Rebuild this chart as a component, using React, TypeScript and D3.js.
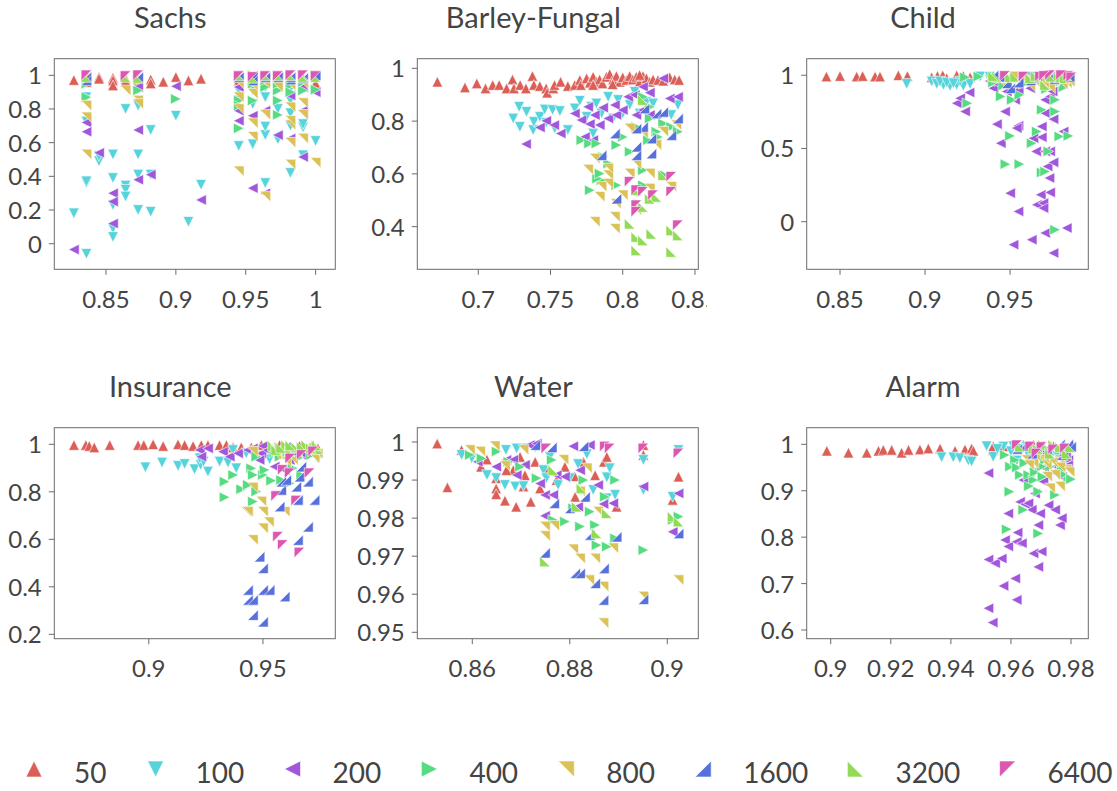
import React from 'react';
import * as d3 from 'd3';

type P = [number, number];

const SERIES = ['50', '100', '200', '400', '800', '1600', '3200', '6400'];
const COLORS = ['#db5f57', '#57d3db', '#a157db', '#57db80', '#dbc257', '#5770db', '#91db57', '#db57b2'];
// triangle orientation per series (unit vertices, y down)
const SHAPES: P[][] = [
  [[0, -1], [-1, 1], [1, 1]],
  [[0, 1], [-1, -1], [1, -1]],
  [[-1, 0], [1, -1], [1, 1]],
  [[1, 0], [-1, -1], [-1, 1]],
  [[-1, -1], [1, -1], [1, 1]],
  [[1, -1], [1, 1], [-1, 1]],
  [[-1, -1], [-1, 1], [1, 1]],
  [[-1, -1], [1, -1], [-1, 1]],
];

// ---------- Sachs ----------
const SACHS: P[][] = [
  [[0.827,0.972],[0.836,0.985],[0.836,0.96],[0.836,0.995],[0.845,0.99],[0.845,0.98],[0.855,0.985],[0.855,0.97],[0.855,0.94],[0.864,0.98],[0.864,0.965],[0.873,0.975],[0.873,0.95],[0.882,0.975],[0.882,0.952],[0.891,0.962],[0.9,0.99],[0.909,0.97],[0.918,0.98],[0.945,0.985],[0.945,0.97],[0.945,0.995],[0.955,0.98],[0.955,0.97],[0.964,0.975],[0.964,0.985],[0.973,0.98],[0.973,0.97],[0.982,0.985],[0.982,0.96],[0.991,0.975],[0.991,0.985],[1.0,0.952]],
  [[0.827,0.18],[0.836,-0.06],[0.836,0.36],[0.836,0.37],[0.836,0.725],[0.836,0.87],[0.845,0.49],[0.845,0.52],[0.855,0.53],[0.855,0.39],[0.855,0.23],[0.855,0.09],[0.855,0.04],[0.864,0.8],[0.864,0.345],[0.864,0.32],[0.864,0.28],[0.873,0.53],[0.873,0.41],[0.873,0.2],[0.873,0.82],[0.882,0.675],[0.882,0.41],[0.882,0.19],[0.9,0.76],[0.909,0.13],[0.918,0.35],[0.945,0.58],[0.955,0.59],[0.964,0.645],[0.964,0.695],[0.964,0.87],[0.964,0.36],[0.973,0.62],[0.973,0.8],[0.982,0.42],[0.982,0.7],[0.982,0.775],[0.982,0.85],[0.991,0.69],[0.991,0.525],[1.0,0.61],[0.945,0.91],[0.955,0.91],[0.991,0.95],[0.945,0.85],[0.964,0.93],[0.982,0.92],[0.991,0.71],[0.955,0.83],[0.873,0.96]],
  [[0.827,-0.035],[0.836,0.72],[0.836,0.665],[0.845,0.54],[0.855,0.3],[0.855,0.25],[0.855,0.12],[0.873,0.675],[0.873,0.38],[0.873,0.93],[0.882,0.41],[0.9,0.935],[0.918,0.26],[0.945,0.93],[0.945,0.79],[0.945,0.73],[0.955,0.76],[0.955,0.33],[0.964,0.79],[0.964,0.3],[0.973,0.645],[0.973,0.99],[0.982,0.625],[0.982,0.88],[0.991,0.515],[0.991,0.79],[1.0,0.9],[0.991,0.93],[0.955,0.97],[0.982,0.95],[0.836,0.97]],
  [[0.836,0.95],[0.836,0.87],[0.873,0.91],[0.9,0.86],[0.945,0.685],[0.945,0.85],[0.955,0.85],[0.955,0.95],[0.964,0.93],[0.973,0.85],[0.973,0.765],[0.973,0.91],[0.982,0.94],[0.991,0.91],[1.0,0.915],[1.0,1.0],[0.955,1.0],[0.982,0.9],[0.991,0.96],[0.945,0.82],[0.964,0.97],[0.973,0.95],[0.836,0.98]],
  [[0.836,0.82],[0.836,0.75],[0.836,0.53],[0.864,0.91],[0.873,0.85],[0.873,0.83],[0.945,0.43],[0.945,0.8],[0.945,0.87],[0.955,0.635],[0.955,0.715],[0.955,0.89],[0.964,0.28],[0.964,0.765],[0.982,0.47],[0.982,0.6],[0.982,0.705],[0.982,0.81],[0.991,0.625],[0.991,0.765],[0.991,0.835],[1.0,0.48],[0.964,0.95],[0.973,0.93],[0.982,0.73],[0.945,0.95],[0.955,0.94],[0.982,0.94],[0.991,0.95],[0.836,0.98]],
  [[0.873,0.99],[0.955,1.0],[0.982,0.975],[0.991,0.985],[1.0,1.0],[0.945,0.99],[0.964,0.99],[0.836,0.99],[0.955,0.97],[0.973,0.99],[0.982,0.99],[0.836,0.97]],
  [[1.0,0.99],[0.991,1.0],[0.964,1.0],[0.982,1.0],[0.873,0.985],[0.945,1.0],[0.955,0.985],[0.973,1.0],[0.991,0.99],[0.836,0.99],[0.864,0.99]],
  [[0.873,1.0],[0.964,0.995],[0.982,1.0],[0.836,1.0],[0.955,0.99],[0.945,0.995],[0.973,0.995],[0.991,1.0],[1.0,0.995],[0.864,0.995]],
];

// ---------- Barley-Fungal ----------
const BARLEY: P[][] = [
  [[0.6717,0.949],[0.6908,0.928],[0.699,0.943],[0.705,0.924],[0.71,0.937],[0.7145,0.937],[0.7196,0.924],[0.7237,0.958],[0.7247,0.924],[0.729,0.937],[0.733,0.924],[0.7375,0.971],[0.7385,0.937],[0.7426,0.933],[0.747,0.924],[0.7477,0.908],[0.752,0.924],[0.7528,0.937],[0.757,0.949],[0.762,0.933],[0.7668,0.937],[0.7703,0.956],[0.771,0.937],[0.775,0.962],[0.7772,0.946],[0.7795,0.968],[0.782,0.949],[0.784,0.958],[0.786,0.943],[0.7887,0.968],[0.791,0.978],[0.7933,0.958],[0.7956,0.971],[0.798,0.949],[0.8,0.966],[0.8025,0.956],[0.8048,0.971],[0.807,0.958],[0.8094,0.968],[0.8117,0.949],[0.814,0.971],[0.8164,0.962],[0.8187,0.949],[0.821,0.958],[0.8244,0.956],[0.828,0.953],[0.8325,0.966],[0.836,0.958],[0.839,0.956],[0.7795,0.937],[0.793,0.94],[0.8117,0.975]],
  [[0.7242,0.81],[0.7283,0.854],[0.7288,0.778],[0.7334,0.835],[0.738,0.766],[0.7385,0.797],[0.7426,0.816],[0.746,0.844],[0.747,0.794],[0.7514,0.842],[0.753,0.772],[0.7565,0.838],[0.762,0.766],[0.7668,0.848],[0.7703,0.877],[0.775,0.816],[0.7783,0.854],[0.7818,0.867],[0.7853,0.829],[0.7899,0.892],[0.7933,0.81],[0.7968,0.88],[0.8,0.829],[0.8048,0.861],[0.8083,0.911],[0.8117,0.829],[0.8164,0.873],[0.821,0.867],[0.8336,0.823],[0.8382,0.861],[0.7795,0.753]],
  [[0.733,0.713],[0.7426,0.776],[0.747,0.801],[0.7525,0.785],[0.757,0.753],[0.7668,0.829],[0.7714,0.804],[0.776,0.854],[0.7772,0.789],[0.7806,0.823],[0.784,0.785],[0.7864,0.851],[0.79,0.81],[0.7945,0.861],[0.7956,0.823],[0.8,0.842],[0.8037,0.892],[0.8083,0.899],[0.8094,0.823],[0.814,0.93],[0.814,0.842],[0.8187,0.908],[0.8187,0.823],[0.828,0.962],[0.8325,0.886],[0.8382,0.892],[0.7738,0.74],[0.7795,0.728]],
  [[0.7714,0.728],[0.7767,0.715],[0.7818,0.715],[0.7864,0.665],[0.7853,0.576],[0.79,0.639],[0.7956,0.709],[0.7956,0.557],[0.8,0.74],[0.8048,0.684],[0.8094,0.778],[0.814,0.614],[0.8175,0.728],[0.8187,0.81],[0.8233,0.76],[0.828,0.791],[0.8336,0.778],[0.8382,0.76],[0.7772,0.538],[0.7823,0.582],[0.784,0.601],[0.814,0.892],[0.8187,0.854],[0.829,0.595],[0.8244,0.74],[0.814,0.557]],
  [[0.776,0.616],[0.7806,0.658],[0.7853,0.551],[0.784,0.513],[0.7806,0.418],[0.79,0.595],[0.79,0.62],[0.7945,0.437],[0.7945,0.392],[0.7952,0.487],[0.8,0.519],[0.8048,0.601],[0.8048,0.772],[0.8094,0.462],[0.8094,0.637],[0.814,0.753],[0.8187,0.601],[0.8187,0.544],[0.8233,0.709],[0.828,0.76],[0.8371,0.785],[0.8336,0.551],[0.79,0.563]],
  [[0.7853,0.671],[0.7945,0.753],[0.7956,0.506],[0.8094,0.703],[0.8094,0.671],[0.814,0.778],[0.8198,0.677],[0.8198,0.734],[0.8233,0.829],[0.828,0.835],[0.8336,0.747],[0.8382,0.81],[0.815,0.848],[0.8094,0.772]],
  [[0.8048,0.411],[0.8094,0.361],[0.8094,0.31],[0.814,0.348],[0.814,0.475],[0.8198,0.373],[0.8233,0.513],[0.8336,0.386],[0.8336,0.304],[0.8382,0.367],[0.8094,0.538],[0.8187,0.506],[0.828,0.595],[0.814,0.88]],
  [[0.8048,0.57],[0.8094,0.538],[0.8094,0.481],[0.8094,0.456],[0.821,0.519],[0.8336,0.589],[0.8336,0.532],[0.8382,0.405],[0.814,0.532]],
];

// ---------- Child ----------
const CHILD: P[][] = [
  [[0.842,0.991],[0.85,0.995],[0.8598,0.991],[0.8633,0.995],[0.8706,0.991],[0.8735,0.991],[0.8843,1.0],[0.8896,0.995],[0.9039,0.986],[0.9073,0.995],[0.9104,1.0],[0.9127,0.98],[0.9186,1.0],[0.9206,0.98],[0.9265,0.986],[0.9225,0.995],[0.9402,0.995],[0.9461,0.991],[0.952,0.995],[0.9618,0.986],[0.9676,0.995],[0.9735,0.995],[0.9814,0.991],[0.9843,0.991]],
  [[0.8892,0.941],[0.9039,0.957],[0.9069,0.941],[0.9108,0.934],[0.9147,0.927],[0.9186,0.934],[0.9225,0.927],[0.9265,0.941],[0.9324,0.991],[0.9382,0.968],[0.9422,0.957],[0.9461,0.968],[0.952,0.973],[0.9578,0.968],[0.9637,0.957],[0.9696,0.973],[0.9755,0.964],[0.9814,0.968],[0.9088,0.957],[0.9206,0.957],[0.9735,0.945],[0.9128,0.95],[0.9167,0.945],[0.938,0.99],[0.944,0.975],[0.95,0.96],[0.956,0.985],[0.962,0.99],[0.967,0.975],[0.972,0.985],[0.978,0.99],[0.983,0.975]],
  [[0.9186,0.809],[0.9206,0.843],[0.9235,0.752],[0.9261,0.882],[0.9402,0.911],[0.9422,0.666],[0.9445,0.536],[0.947,0.752],[0.948,0.889],[0.95,0.195],[0.952,-0.157],[0.9529,0.832],[0.9549,0.07],[0.9549,0.655],[0.9539,0.639],[0.9627,-0.123],[0.9637,0.57],[0.9653,0.48],[0.9657,0.116],[0.968,0.184],[0.9686,0.577],[0.9686,0.65],[0.9696,0.127],[0.9706,-0.077],[0.9706,0.48],[0.9706,0.741],[0.9706,0.832],[0.972,0.377],[0.9731,0.298],[0.9735,0.2],[0.9735,0.48],[0.9755,-0.214],[0.9755,0.405],[0.9755,0.7],[0.9814,0.616],[0.9833,-0.043],[0.9696,0.093],[0.9618,0.911],[0.9735,0.855],[0.975,0.889],[0.938,0.96],[0.943,0.94],[0.955,0.9],[0.963,0.97],[0.97,0.99],[0.978,0.95],[0.984,0.97]],
  [[0.9249,0.809],[0.9235,0.986],[0.9314,0.991],[0.9445,0.855],[0.9473,0.393],[0.95,0.586],[0.951,0.832],[0.9555,0.393],[0.9555,0.866],[0.9627,0.536],[0.9657,0.616],[0.9686,0.764],[0.9686,0.336],[0.9706,0.343],[0.9725,0.48],[0.9765,0.832],[0.9765,0.752],[0.979,0.582],[0.9843,0.586],[0.9765,-0.055],[0.9814,0.918],[0.9712,0.905],[0.9559,0.98],[0.94,0.95],[0.946,0.93],[0.958,0.94],[0.966,0.98],[0.975,0.93],[0.98,0.96]],
  [[0.948,0.911],[0.9618,0.923],[0.9735,0.911],[0.9833,0.945],[0.9676,0.957],[0.9578,0.968],[0.952,0.991],[0.9794,0.98],[0.9853,0.968],[0.9657,0.94],[0.964,0.96],[0.97,0.945],[0.976,0.96],[0.981,0.935],[0.985,0.955],[0.945,0.98]],
  [[0.948,0.945],[0.95,0.911],[0.9402,1.0],[0.9735,0.991],[0.9814,0.991],[0.9657,0.986],[0.944,0.99],[0.955,0.95],[0.962,0.965],[0.976,0.975],[0.985,0.99]],
  [[0.9422,0.986],[0.95,0.986],[0.9618,0.98],[0.9706,0.934],[0.9784,0.986],[0.9833,1.0],[0.94,0.995],[0.953,0.99],[0.965,0.995],[0.974,0.99],[0.982,0.98]],
  [[0.9578,0.991],[0.9735,1.0],[0.9843,0.995],[0.9676,0.99],[0.947,0.995],[0.958,0.99],[0.97,0.995],[0.98,1.0],[0.986,0.985]],
];

// ---------- Insurance ----------
const INSURANCE: P[][] = [
  [[0.8672,0.997],[0.8724,0.997],[0.8739,0.993],[0.8761,0.987],[0.8829,0.997],[0.8953,0.997],[0.8978,0.997],[0.9019,1.0],[0.9063,0.993],[0.9128,1.0],[0.9157,0.997],[0.9194,0.993],[0.923,0.997],[0.9259,0.997],[0.931,0.997],[0.934,0.997],[0.9369,0.987],[0.9405,0.987],[0.9449,0.987],[0.9493,0.997],[0.9529,0.987],[0.9573,0.997],[0.9617,0.987],[0.966,0.993],[0.9704,0.987],[0.9741,0.983]],
  [[0.8985,0.903],[0.9058,0.923],[0.9128,0.909],[0.9157,0.917],[0.92,0.895],[0.9227,0.913],[0.9259,0.885],[0.924,0.927],[0.931,0.927],[0.9347,0.923],[0.9383,0.899],[0.9427,0.962],[0.9464,0.948],[0.95,0.941],[0.9529,0.937],[0.9587,0.955],[0.9631,0.934],[0.9741,0.941],[0.9223,0.941],[0.9369,0.976],[0.9704,0.976]],
  [[0.9223,0.976],[0.923,0.948],[0.9259,0.983],[0.9325,0.969],[0.9354,0.948],[0.9391,0.962],[0.9434,0.976],[0.9456,0.983],[0.95,0.993],[0.9493,0.962],[0.9551,0.906],[0.9595,0.892],[0.9617,0.934],[0.9668,0.955],[0.9485,0.934],[0.952,0.975],[0.957,0.96],[0.963,0.975]],
  [[0.9332,0.843],[0.9332,0.777],[0.937,0.871],[0.9405,0.811],[0.9434,0.829],[0.9449,0.899],[0.9456,0.871],[0.9456,0.759],[0.9471,0.801],[0.95,0.871],[0.9507,0.892],[0.9536,0.847],[0.9573,0.948],[0.958,0.85],[0.9617,0.836],[0.9631,0.899],[0.9668,0.871],[0.9711,0.955],[0.9471,0.948],[0.955,0.965],[0.96,0.975],[0.966,0.945]],
  [[0.9427,0.716],[0.9434,0.716],[0.9456,0.597],[0.9493,0.759],[0.95,0.716],[0.95,0.646],[0.9526,0.672],[0.9456,0.818],[0.9456,0.969],[0.9595,0.716],[0.9602,0.927],[0.9631,0.934],[0.9726,0.941],[0.9558,0.955],[0.965,0.965],[0.969,0.975],[0.974,0.96]],
  [[0.9485,0.527],[0.95,0.478],[0.9434,0.387],[0.9434,0.345],[0.9456,0.345],[0.9456,0.281],[0.95,0.387],[0.9529,0.387],[0.95,0.253],[0.9595,0.359],[0.9573,0.738],[0.958,0.808],[0.958,0.843],[0.9646,0.822],[0.966,0.864],[0.9668,0.906],[0.9653,0.766],[0.9697,0.653],[0.9697,0.843],[0.9726,0.766],[0.9653,0.597],[0.9602,0.85],[0.96,0.99],[0.965,0.975],[0.97,0.995]],
  [[0.9544,0.993],[0.9573,0.99],[0.9602,0.997],[0.9646,0.987],[0.969,0.997],[0.9726,0.987],[0.9741,0.979],[0.9617,0.969],[0.9558,0.976],[0.958,0.985],[0.962,0.995],[0.967,0.99],[0.971,0.985],[0.9735,0.995]],
  [[0.9558,0.782],[0.9566,0.611],[0.9587,0.576],[0.9646,0.763],[0.966,0.544],[0.9704,0.878],[0.9587,0.892],[0.9617,0.878],[0.962,0.94],[0.967,0.955],[0.972,0.97]],
];

// ---------- Water ----------
const WATER: P[][] = [
  [[0.8528,0.9996],[0.8549,0.9881],[0.8578,0.9979],[0.8618,0.9935],[0.863,0.9954],[0.8649,0.9878],[0.8649,0.9863],[0.8649,0.9905],[0.8667,0.9846],[0.869,0.983],[0.8684,0.9926],[0.8698,0.9961],[0.8708,0.9913],[0.872,0.9843],[0.8729,0.9948],[0.8739,0.9878],[0.8752,0.9926],[0.8773,0.99],[0.879,0.9935],[0.881,0.991],[0.8811,0.9856],[0.8828,0.9948],[0.8852,0.9913],[0.887,0.9948],[0.8876,0.9961],[0.8896,0.983],[0.8951,0.9992],[0.8951,0.9966],[0.9023,0.9909],[0.9011,0.9848],[0.867,0.9926],[0.8705,0.9883]],
  [[0.8578,0.9966],[0.8599,0.9957],[0.863,0.9913],[0.8649,0.9905],[0.8667,0.9887],[0.8669,0.9979],[0.8688,0.9883],[0.8705,0.9884],[0.8691,0.9983],[0.8711,0.9983],[0.8729,0.9986],[0.8746,0.9926],[0.8759,0.9961],[0.8776,0.9887],[0.88,0.9905],[0.8817,0.9942],[0.8835,0.9968],[0.8848,0.9874],[0.8876,0.9907],[0.8882,0.9931],[0.8893,0.9861],[0.8876,0.9852],[0.8951,0.9953],[0.8951,0.9874],[0.9023,0.9979],[0.9011,0.9856],[0.8752,0.9905]],
  [[0.8611,0.9948],[0.8649,0.9935],[0.867,0.9953],[0.8684,0.9953],[0.8691,0.9913],[0.8708,0.994],[0.8718,0.9992],[0.8739,0.9891],[0.8749,0.9861],[0.8749,0.9806],[0.8766,0.9861],[0.8773,0.9913],[0.879,0.9909],[0.8807,0.9989],[0.8817,0.983],[0.8821,0.9926],[0.8841,0.9992],[0.8858,0.9887],[0.8869,0.9837],[0.8889,0.9839],[0.8951,0.9883],[0.9011,0.9764],[0.9023,0.9865],[0.8732,0.9996]],
  [[0.8595,0.9966],[0.8619,0.9957],[0.865,0.9975],[0.8674,0.9948],[0.8698,0.9935],[0.8732,0.9905],[0.8763,0.9953],[0.879,0.9791],[0.8807,0.9826],[0.8828,0.99],[0.8821,0.9778],[0.8852,0.9782],[0.8841,0.9817],[0.8855,0.9729],[0.8872,0.9856],[0.8876,0.9725],[0.8893,0.9747],[0.8893,0.99],[0.8951,0.9716],[0.9023,0.9804],[0.9011,0.9795],[0.8766,0.9795]],
  [[0.8595,0.9979],[0.8616,0.9975],[0.8646,0.9989],[0.8667,0.9937],[0.8705,0.9979],[0.8749,0.9778],[0.8749,0.9753],[0.8768,0.978],[0.8787,0.9953],[0.8807,0.9718],[0.8821,0.9694],[0.8821,0.987],[0.884,0.9637],[0.8852,0.9694],[0.8858,0.9817],[0.8869,0.962],[0.8869,0.9524],[0.8889,0.9721],[0.8951,0.9594],[0.9023,0.9637],[0.8835,0.9931]],
  [[0.8729,0.9992],[0.8749,0.9709],[0.8763,0.9986],[0.8768,0.9839],[0.88,0.9826],[0.8811,0.9655],[0.8821,0.9655],[0.8828,0.9989],[0.8841,0.9756],[0.8852,0.9629],[0.887,0.9668],[0.8869,0.9585],[0.8896,0.9751],[0.8951,0.9587],[0.9023,0.976],[0.8831,0.9856]],
  [[0.8749,0.9686],[0.8766,0.9926],[0.8814,0.983],[0.8824,0.9878],[0.8855,0.976],[0.8876,0.9813],[0.9011,0.9804],[0.9023,0.9791]],
  [[0.8752,0.9983],[0.8872,0.9988],[0.8882,0.9983],[0.9023,0.997],[0.8951,0.9983]],
];

// ---------- Alarm ----------
const ALARM: P[][] = [
  [[0.8987,0.986],[0.9059,0.982],[0.912,0.982],[0.9159,0.986],[0.9175,0.988],[0.9203,0.988],[0.9236,0.982],[0.9259,0.988],[0.9297,0.989],[0.9325,0.991],[0.9364,0.991],[0.9414,0.986],[0.9447,0.989],[0.9469,0.991],[0.9475,0.986],[0.9541,0.988],[0.9575,0.996],[0.9608,0.999],[0.9641,0.999],[0.9675,0.999],[0.9708,0.996],[0.9741,0.996],[0.9774,0.995],[0.9541,0.996]],
  [[0.9369,0.972],[0.9408,0.972],[0.943,0.97],[0.9458,0.965],[0.9469,0.963],[0.9519,0.996],[0.9541,0.973],[0.9575,0.995],[0.9608,0.996],[0.9652,0.994],[0.9697,0.988],[0.9741,0.984],[0.9774,0.945],[0.9786,0.963],[0.9675,0.938],[0.9719,0.966],[0.9555,0.99],[0.96,0.985],[0.9625,0.99],[0.966,0.975],[0.969,0.985],[0.9725,0.97],[0.9755,0.975],[0.978,0.955],[0.962,0.965]],
  [[0.9525,0.938],[0.9525,0.752],[0.9547,0.744],[0.9569,0.754],[0.9525,0.647],[0.9539,0.616],[0.9575,0.695],[0.958,0.794],[0.9591,0.851],[0.9591,0.78],[0.9614,0.711],[0.9619,0.79],[0.9622,0.81],[0.9619,0.665],[0.963,0.876],[0.9636,0.787],[0.9641,0.923],[0.9647,0.871],[0.9658,0.873],[0.9669,0.859],[0.9675,0.765],[0.968,0.894],[0.9691,0.826],[0.9691,0.736],[0.9697,0.851],[0.9702,0.769],[0.9708,0.92],[0.9725,0.869],[0.9747,0.859],[0.9763,0.826],[0.9769,0.841],[0.9791,0.966],[0.9783,0.973],[0.9752,0.952],[0.971,0.95],[0.9745,0.94],[0.977,0.93],[0.979,0.955]],
  [[0.958,0.977],[0.9597,0.952],[0.9595,0.898],[0.9586,0.817],[0.9614,0.966],[0.963,0.934],[0.9641,0.859],[0.9658,0.934],[0.9675,0.923],[0.9691,0.898],[0.9691,0.808],[0.9713,0.966],[0.973,0.952],[0.9747,0.891],[0.9769,0.945],[0.9791,0.923],[0.9702,0.952],[0.962,0.95],[0.9645,0.96],[0.968,0.94],[0.9705,0.93],[0.9735,0.965],[0.9775,0.935],[0.98,0.925],[0.966,0.91]],
  [[0.9652,0.966],[0.9675,0.959],[0.9697,0.973],[0.9719,0.955],[0.973,0.905],[0.9747,0.934],[0.9763,0.909],[0.9786,0.945],[0.9763,0.966],[0.966,0.955],[0.968,0.975],[0.971,0.97],[0.974,0.96],[0.9765,0.95],[0.9795,0.94],[0.972,0.93]],
  [[0.9641,0.996],[0.9686,0.995],[0.9719,0.994],[0.9763,1.0],[0.9791,1.0],[0.9769,0.977],[0.967,0.98],[0.972,0.99],[0.9775,0.985],[0.98,0.995],[0.962,0.99]],
  [[0.9741,0.999],[0.9763,0.994],[0.9797,0.994],[0.9708,0.999],[0.9675,0.991],[0.963,0.995],[0.969,0.99],[0.973,0.98],[0.9785,0.98]],
  [[0.9664,0.995],[0.9702,0.994],[0.9741,0.989],[0.978,0.991],[0.962,0.998],[0.9685,0.98]],
];

const TITLES = ['Sachs', 'Barley-Fungal', 'Child', 'Insurance', 'Water', 'Alarm'];
const DATASETS = [SACHS, BARLEY, CHILD, INSURANCE, WATER, ALARM];
const X_DOMAINS: P[] = [[0.813, 1.0141], [0.6578, 0.8523], [0.8304, 0.996], [0.8586, 0.9817], [0.84872, 0.90636], [0.892, 0.98576]];
const Y_DOMAINS: P[] = [[-0.152, 1.0986], [0.2383, 1.0366], [-0.325, 1.113], [0.1815, 1.0699], [0.94832, 1.00376], [0.5813, 1.0358]];
const X_TICKS = [[0.85, 0.9, 0.95, 1], [0.7, 0.75, 0.8, 0.85], [0.85, 0.9, 0.95], [0.9, 0.95], [0.86, 0.88, 0.9], [0.9, 0.92, 0.94, 0.96, 0.98]];
const Y_TICKS = [[0, 0.2, 0.4, 0.6, 0.8, 1], [0.4, 0.6, 0.8, 1], [0, 0.5, 1], [0.2, 0.4, 0.6, 0.8, 1], [0.95, 0.96, 0.97, 0.98, 0.99, 1], [0.6, 0.7, 0.8, 0.9, 1]];

const W = 1117;
const H = 791;
const COL_X: P[] = [[54.3, 335.3], [417.3, 698.3], [806.7, 1088.3]];
const ROW_Y: P[] = [[58.7, 269.3], [427.7, 638.7]];
const FONT = 'Lato, "Open Sans", sans-serif';
const TEXT = '#444444';
const AXIS = '#6b6b6b';
const fmt = d3.format('~g');

function tri(shape: number, cx: number, cy: number, r: number) {
  const pts = SHAPES[shape].map(([a, b]) => [cx + a * r, cy + b * r] as [number, number]);
  return d3.line()(pts.concat([pts[0]])) + 'Z';
}

function Panel({ idx }: { idx: number }) {
  const [x0, x1] = COL_X[idx % 3];
  const [y0, y1] = ROW_Y[Math.floor(idx / 3)];
  const x = d3.scaleLinear().domain(X_DOMAINS[idx]).range([x0, x1]);
  const y = d3.scaleLinear().domain(Y_DOMAINS[idx]).range([y1, y0]);
  const data = DATASETS[idx];
  const clipId = `clip-${idx}`;
  const cellClip = `cell-${idx}`;
  return (
    <g clipPath={idx === 1 ? `url(#${cellClip})` : undefined}>
      <defs>
        <clipPath id={clipId}>
          <rect x={x0} y={y0} width={x1 - x0} height={y1 - y0} />
        </clipPath>
        <clipPath id={cellClip}>
          <rect x={360} y={0} width={347} height={340} />
        </clipPath>
      </defs>
      <text x={(x0 + x1) / 2 - 24.5} y={y0 - 30.4} textAnchor="middle" fontFamily={FONT} fontSize={29} fill={TEXT}>
        {TITLES[idx]}
      </text>
      <g clipPath={`url(#${clipId})`}>
        {data.map((pts, s) => (
          <g key={s} fill={COLORS[s]} stroke="#ffffff" strokeWidth={0.6}>
            {pts.map((p, i) => (
              <path key={i} d={tri(s, x(p[0]), y(p[1]), 5.3)} />
            ))}
          </g>
        ))}
      </g>
      <rect x={x0} y={y0} width={x1 - x0} height={y1 - y0} fill="none" stroke={AXIS} strokeWidth={1} />
      {X_TICKS[idx].map((t) => (
        <g key={t}>
          <line x1={x(t)} x2={x(t)} y1={y1} y2={y1 + 5.5} stroke={AXIS} strokeWidth={1} />
          <text x={x(t)} y={y1 + 38.5} textAnchor="middle" fontFamily={FONT} fontSize={24} fill={TEXT}>
            {fmt(t)}
          </text>
        </g>
      ))}
      {Y_TICKS[idx].map((t) => (
        <g key={t}>
          <line x1={x0 - 5.5} x2={x0} y1={y(t)} y2={y(t)} stroke={AXIS} strokeWidth={1} />
          <text x={x0 - 12.5} y={y(t) + 9} textAnchor="end" fontFamily={FONT} fontSize={24} fill={TEXT}>
            {fmt(t)}
          </text>
        </g>
      ))}
    </g>
  );
}

function Legend() {
  const charW = 15.3;
  let cx = 34;
  const items = SERIES.map((label, i) => {
    const item = { label, i, cx };
    cx += 41 + label.length * charW + 50;
    return item;
  });
  return (
    <g>
      {items.map(({ label, i, cx }) => (
        <g key={label}>
          <path d={tri(i, cx, 769, 8)} fill={COLORS[i]} stroke="#ffffff" strokeWidth={0.6} />
          <text x={cx + 40} y={783} fontFamily={FONT} fontSize={28} fill={TEXT}>
            {label}
          </text>
        </g>
      ))}
    </g>
  );
}

export default function App() {
  return (
    <svg width={W} height={H} style={{ position: 'absolute', left: 0, top: 0, background: '#ffffff' }}>
      <rect width={W} height={H} fill="#ffffff" />
      {TITLES.map((_, i) => (
        <Panel key={i} idx={i} />
      ))}
      <Legend />
    </svg>
  );
}
